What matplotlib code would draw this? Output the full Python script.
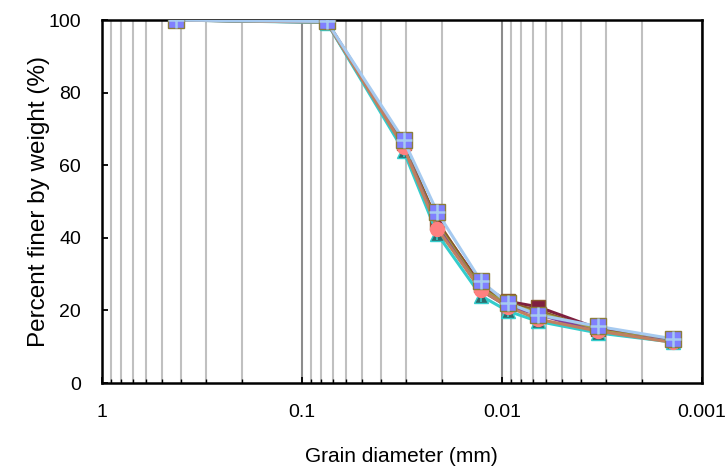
import numpy as np
import matplotlib.pyplot as plt
from matplotlib.ticker import FixedLocator, NullFormatter

plt.rcParams['font.family'] = ['Liberation Sans', 'DejaVu Sans']

# grain size (mm): two sieves then hydrometer readings
diam = [0.425, 0.075, 0.031, 0.021, 0.0127, 0.0093, 0.0066, 0.0033, 0.0014]

s_maroon = [100, 99.6, 66.0, 44.0, 27.0, 22.5, 21.0, 15.0, 12.0]
s_brown = [100, 99.5, 65.5, 44.5, 26.5, 22.0, 20.0, 14.5, 11.8]
s_olive = [100, 99.5, 65.0, 43.5, 26.0, 21.5, 19.5, 14.5, 11.5]
s_purple = [100, 99.4, 65.0, 43.0, 25.5, 21.0, 19.0, 14.0, 11.5]
s_teal = [100, 99.3, 64.0, 41.0, 24.0, 19.8, 17.0, 13.8, 11.3]
s_salmon = [100, 99.4, 65.0, 42.5, 25.6, 21.0, 17.6, 14.3, 11.2]
s_blue = [100, 99.6, 67.0, 47.0, 28.0, 22.0, 18.8, 15.6, 12.2]

fig = plt.figure(figsize=(7.28, 4.66), dpi=100)
ax = fig.add_axes([0.140, 0.178, 0.824, 0.779])

lw = 2.2
ax.plot(diam, s_maroon, color='#7F1F3F', lw=lw, marker='s', ms=10,
        mfc='#7F1F3F', mec='#8B5A2B', zorder=3)
ax.plot(diam, s_brown, color='#8B5A2B', lw=lw, zorder=3)
ax.plot(diam, s_olive, color='#A0A040', lw=lw, zorder=3)
ax.plot(diam, s_purple, color='#7F3F9F', lw=lw, zorder=3)
ax.plot(diam, s_teal, color='#33CCCC', lw=lw, marker='^', ms=10,
        mfc='#2E6B6B', mec='#33CCCC', zorder=4)
ax.plot(diam, s_teal, color='none', marker='1', ms=9, mec='#33CCCC',
        mew=1.2, zorder=4)
ax.plot(diam, s_salmon, color='#C08060', lw=lw, marker='o', ms=10,
        mfc='#FF8080', mec='#FF8080', zorder=5)
ax.plot(diam, s_blue, color='#A6CAF0', lw=lw, marker='s', ms=11,
        mfc='#8080FF', mec='#8B7D3A', zorder=6)
ax.plot(diam, s_blue, color='none', marker='+', ms=11, mec='#A6CAF0',
        mew=1.8, zorder=7)

ax.set_xscale('log')
ax.set_xlim(1, 0.001)
ax.set_ylim(0, 100)

major = [1, 0.1, 0.01, 0.001]
minor = [m * 10.0 ** e for e in (-1, -2, -3) for m in range(2, 10)]
ax.xaxis.set_major_locator(FixedLocator(major))
ax.xaxis.set_minor_locator(FixedLocator(minor))
ax.xaxis.set_minor_formatter(NullFormatter())
ax.set_xticklabels(['1', '0.1', '0.01', '0.001'])
ax.set_yticks([0, 20, 40, 60, 80, 100])

ax.grid(True, which='minor', axis='x', color='#C0C0C0', lw=1.5)
ax.grid(True, which='major', axis='x', color='#8C8C8C', lw=1.5)
ax.set_axisbelow(True)

ax.tick_params(axis='both', which='major', direction='in', length=4.5,
               width=1.3, labelsize=14, pad=15)
ax.tick_params(axis='x', which='minor', direction='in', length=3, width=1)
for s in ax.spines.values():
    s.set_linewidth(1.8)
    s.set_color('black')

ax.set_xlabel('Grain diameter (mm)', fontsize=15, va='center')
ax.set_ylabel('Percent finer by weight (%)', fontsize=17.5, va='center')
ax.xaxis.set_label_coords(0.5, -0.201)
ax.yaxis.set_label_coords(-0.105, 0.5)

fig.savefig('out.png', dpi=100)
